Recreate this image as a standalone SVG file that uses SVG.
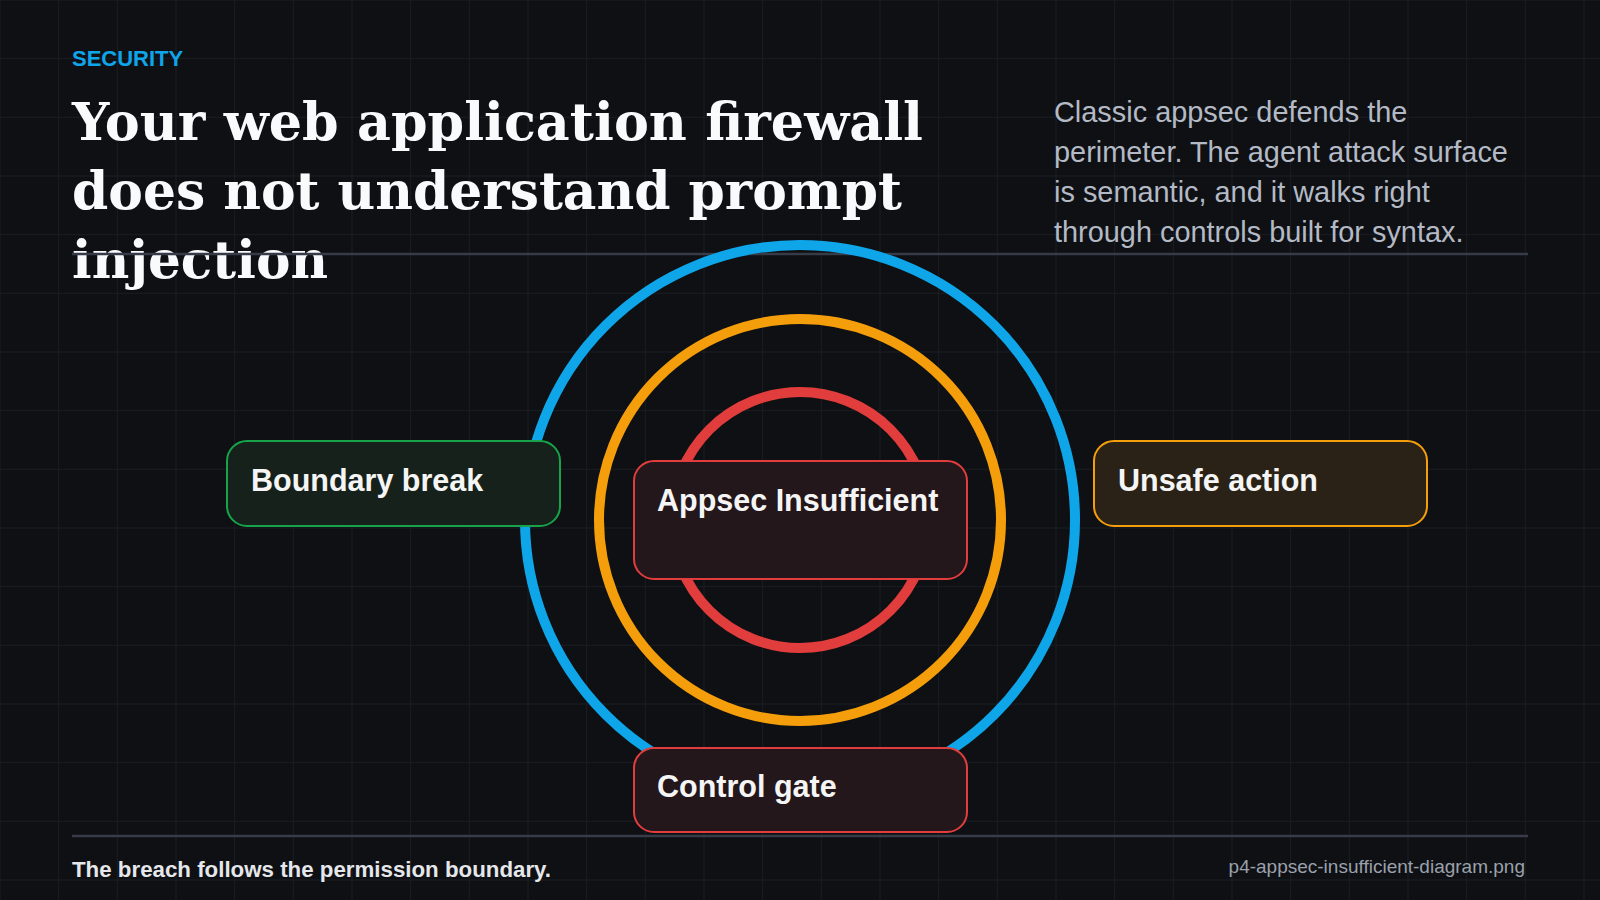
<svg xmlns="http://www.w3.org/2000/svg" width="1600" height="900" viewBox="0 0 1600 900">
  <style>
    .grid { stroke: #1b1e24; stroke-width: 1; fill: none; }
    .rule { stroke: #353b47; stroke-width: 2.5; }
    .eyebrow { font-family: "Liberation Sans", Arial, sans-serif; font-weight: bold; font-size: 22px; fill: #0ea5e9; }
    .title { font-family: "DejaVu Serif", Georgia, serif; font-weight: bold; font-size: 53px; fill: #f8fafc; }
    .lede { font-family: "Liberation Sans", Arial, sans-serif; font-size: 28.9px; fill: #b3bac5; }
    .ring { fill: none; stroke-width: 10; }
    .node rect { stroke-width: 2; }
    .node text { font-family: "Liberation Sans", Arial, sans-serif; font-weight: bold; font-size: 30.5px; fill: #f5f5f5; }
    .red rect { fill: #24171b; stroke: #e23d3d; }
    .green rect { fill: #16211b; stroke: #16a34a; }
    .amber rect { fill: #2a2216; stroke: #f59e0b; }
    .foot { font-family: "Liberation Sans", Arial, sans-serif; font-weight: bold; font-size: 22.3px; fill: #e5e7eb; }
    .file { font-family: "Liberation Sans", Arial, sans-serif; font-size: 19px; fill: #9aa1ad; }
  </style>
  <rect width="1600" height="900" fill="#0f1013"/>
  <path class="grid" d="M0 0V900M58.67 0V900M117.33 0V900M176 0V900M234.67 0V900M293.33 0V900M352 0V900M410.67 0V900M469.33 0V900M528 0V900M586.67 0V900M645.33 0V900M704 0V900M762.67 0V900M821.33 0V900M880 0V900M938.67 0V900M997.33 0V900M1056 0V900M1114.67 0V900M1173.33 0V900M1232 0V900M1290.67 0V900M1349.33 0V900M1408 0V900M1466.67 0V900M1525.33 0V900M1584 0V900M0 0H1600M0 58.67H1600M0 117.33H1600M0 176H1600M0 234.67H1600M0 293.33H1600M0 352H1600M0 410.67H1600M0 469.33H1600M0 528H1600M0 586.67H1600M0 645.33H1600M0 704H1600M0 762.67H1600M0 821.33H1600M0 880H1600"/>

  <g id="header">
    <text class="eyebrow" x="72" y="66">SECURITY</text>
    <text class="title" x="72" y="140" textLength="851" lengthAdjust="spacingAndGlyphs">Your web application firewall</text>
    <text class="title" x="72" y="209" textLength="830" lengthAdjust="spacingAndGlyphs">does not understand prompt</text>
    <text class="title" x="72" y="278" textLength="256" lengthAdjust="spacingAndGlyphs">injection</text>
    <text class="lede" x="1054" y="122">Classic appsec defends the</text>
    <text class="lede" x="1054" y="162">perimeter. The agent attack surface</text>
    <text class="lede" x="1054" y="202">is semantic, and it walks right</text>
    <text class="lede" x="1054" y="242">through controls built for syntax.</text>
    <line class="rule" x1="72" y1="254" x2="1528" y2="254"/>
  </g>

  <g id="connectors">
    <circle class="ring" cx="800" cy="520" r="275" stroke="#0ea5e9"/>
    <circle class="ring" cx="800" cy="520" r="201" stroke="#f59e0b"/>
    <circle class="ring" cx="800" cy="520" r="128" stroke="#e23d3d"/>
  </g>

  <g id="node-boundary-break" class="node green">
    <rect x="227" y="441" width="333" height="85" rx="20"/>
    <text x="251" y="491">Boundary break</text>
  </g>
  <g id="node-appsec-insufficient" class="node red">
    <rect x="634" y="461" width="333" height="118" rx="20"/>
    <text x="657" y="511">Appsec Insufficient</text>
  </g>
  <g id="node-unsafe-action" class="node amber">
    <rect x="1094" y="441" width="333" height="85" rx="20"/>
    <text x="1118" y="491">Unsafe action</text>
  </g>
  <g id="node-control-gate" class="node red">
    <rect x="634" y="748" width="333" height="84" rx="20"/>
    <text x="657" y="797">Control gate</text>
  </g>

  <g id="footer">
    <line class="rule" x1="72" y1="836" x2="1528" y2="836"/>
    <text class="foot" x="72" y="877">The breach follows the permission boundary.</text>
    <text class="file" x="1525" y="873" text-anchor="end">p4-appsec-insufficient-diagram.png</text>
  </g>
</svg>
